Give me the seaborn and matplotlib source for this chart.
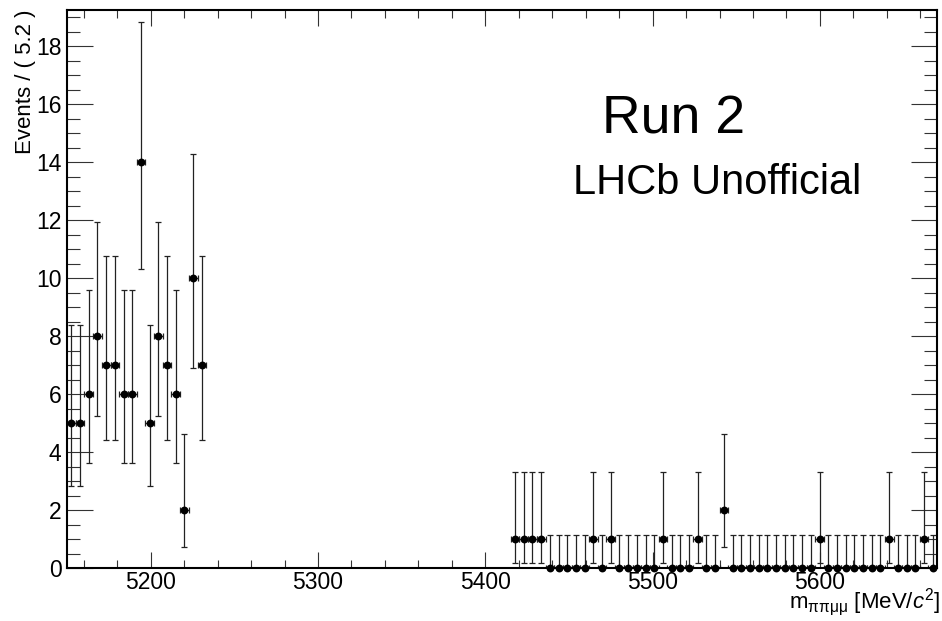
import math

import matplotlib
matplotlib.use("Agg")
import matplotlib.pyplot as plt
import numpy as np
import pandas as pd
import seaborn as sns
from matplotlib.ticker import MultipleLocator

# Binning of the invariant-mass histogram
bin_start = 5150.0
bin_width = 5.2
n_bins = 100

# Lower sideband: bins 0..15
low_first_bin = 0
counts_low = [5, 5, 6, 8, 7, 7, 6, 6, 14, 5, 8, 7, 6, 2, 10, 7]

# Upper sideband: bins 51..99 (signal window is blinded)
high_first_bin = 51
counts_high = [
    1, 1, 1, 1,
    0, 0, 0, 0, 0,
    1, 0, 1,
    0, 0, 0, 0, 0,
    1, 0, 0, 0,
    1, 0, 0,
    2,
    0, 0, 0, 0, 0, 0, 0, 0, 0, 0,
    1,
    0, 0, 0, 0, 0, 0, 0,
    1,
    0, 0, 0,
    1, 0,
]

x_ticks = [5200, 5300, 5400, 5500, 5600]
y_ticks = [0, 2, 4, 6, 8, 10, 12, 14, 16, 18]


def poisson_cdf(k, mu):
    if k < 0:
        return 0.0
    term = math.exp(-mu)
    total = term
    for i in range(1, k + 1):
        term *= mu / i
        total += term
    return total


def poisson_interval(n, alpha=1 - 0.682689):
    """Central 68% Poisson interval, one-sided upper limit for n = 0."""
    if n == 0:
        return 0.0, -math.log(alpha)
    a, b = 0.0, float(n)
    for _ in range(100):
        m = 0.5 * (a + b)
        if 1.0 - poisson_cdf(n - 1, m) < alpha / 2:
            a = m
        else:
            b = m
    lo = 0.5 * (a + b)
    a, b = float(n), n + 10.0 * math.sqrt(n) + 10.0
    for _ in range(100):
        m = 0.5 * (a + b)
        if poisson_cdf(n, m) > alpha / 2:
            a = m
        else:
            b = m
    hi = 0.5 * (a + b)
    return lo, hi


bins = list(range(low_first_bin, low_first_bin + len(counts_low))) + \
       list(range(high_first_bin, high_first_bin + len(counts_high)))
counts = counts_low + counts_high
centers = [bin_start + (b + 0.5) * bin_width for b in bins]
intervals = [poisson_interval(n) for n in counts]

df = pd.DataFrame({
    "mass": centers,
    "events": counts,
    "err_lo": [n - lo for n, (lo, hi) in zip(counts, intervals)],
    "err_hi": [hi - n for n, (lo, hi) in zip(counts, intervals)],
})

sns.set_theme(style="ticks")
plt.rcParams["font.family"] = ["Liberation Sans", "DejaVu Sans"]
plt.rcParams["text.color"] = "black"
plt.rcParams["axes.labelcolor"] = "black"
plt.rcParams["mathtext.fontset"] = "custom"
plt.rcParams["mathtext.rm"] = "Liberation Sans"
plt.rcParams["mathtext.it"] = "Liberation Sans:italic"

fig = plt.figure(figsize=(9.42, 6.21), dpi=100)
ax = fig.add_axes([67 / 942, 53 / 621, 870 / 942, 558 / 621])

ax.errorbar(
    df["mass"], df["events"],
    xerr=bin_width / 2, yerr=[df["err_lo"], df["err_hi"]],
    fmt="none", ecolor="#222222", elinewidth=0.9,
    capsize=2.2, capthick=0.9, zorder=2,
)
sns.scatterplot(
    data=df, x="mass", y="events", ax=ax,
    color="black", s=32, linewidth=0, zorder=3, clip_on=False,
)

ax.set_xlim(bin_start, bin_start + n_bins * bin_width)
ax.set_ylim(0, 19.25)
ax.set_xticks(x_ticks)
ax.set_yticks(y_ticks)
ax.xaxis.set_minor_locator(MultipleLocator(20))
ax.yaxis.set_minor_locator(MultipleLocator(0.5))

ax.tick_params(axis="both", which="both", direction="in", top=True, right=True,
               colors="#333333", labelcolor="black", labelsize=16.5, width=0.8)
ax.tick_params(axis="y", which="major", length=19, pad=4)
ax.tick_params(axis="y", which="minor", length=9.5)
ax.tick_params(axis="x", which="major", length=11.5, pad=2.5)
ax.tick_params(axis="x", which="minor", length=5.8)

for side in ["left", "right", "top", "bottom"]:
    ax.spines[side].set_visible(True)
    ax.spines[side].set_linewidth(1.5)
    ax.spines[side].set_color("black")

ax.set_xlabel("")
ax.set_ylabel("")
fig.text(26 / 942, 1 - 10 / 621, "Events / ( 5.2 )", rotation=90,
         ha="center", va="top", fontsize=16)
fig.text(940 / 942, 1 - 608 / 621, r"m$_{\mathrm{\pi\pi\mu\mu}}$ [MeV/$c^2$]",
         ha="right", va="baseline", fontsize=16)

fig.text(602 / 942, 1 - 134 / 621, "Run 2", ha="left", va="baseline", fontsize=38.5)
fig.text(573 / 942, 1 - 194 / 621, "LHCb Unofficial", ha="left", va="baseline", fontsize=30)

fig.savefig("out.png", dpi=100)
